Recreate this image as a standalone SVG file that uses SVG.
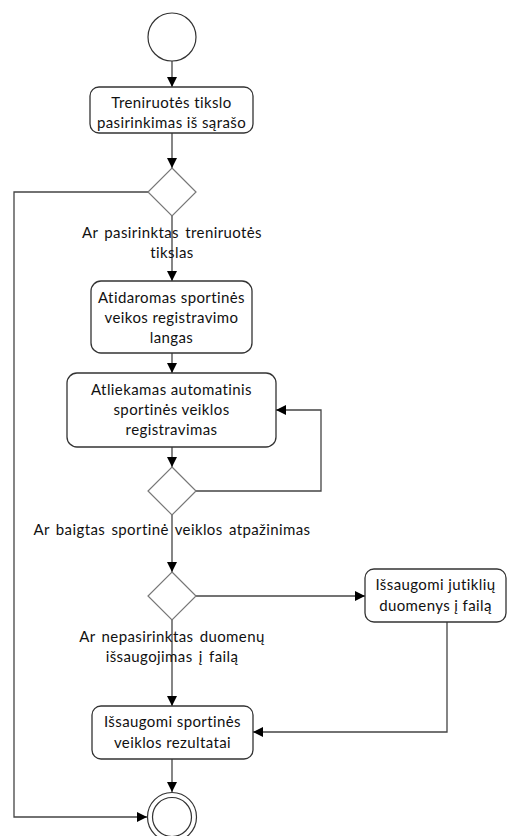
<svg xmlns="http://www.w3.org/2000/svg" width="516" height="836" viewBox="0 0 516 836">
  <defs>
    <marker id="arrow" viewBox="0 0 10 10" refX="10" refY="5" markerWidth="10" markerHeight="10" markerUnits="userSpaceOnUse" orient="auto">
      <path d="M0,0 L10,5 L0,10 Z" fill="#000"/>
    </marker>
    <style>
      .act { fill: #fff; stroke: #333; stroke-width: 1.3; }
      .dec { fill: #fff; stroke: #777; stroke-width: 1.2; }
      .term { fill: #fff; stroke: #333; stroke-width: 1.2; }
      .edge-a { fill: none; stroke: #444; stroke-width: 1.3; marker-end: url(#arrow); }
      text { font-family: Lato, "Liberation Sans", Arial, sans-serif; font-size: 15px; letter-spacing: 0.4px; fill: #111; text-anchor: middle; }
      .guard { word-spacing: 2px; }
    </style>
  </defs>
  <rect width="516" height="836" fill="#fff"/>

  <!-- connectors -->
  <g id="connectors">
    <line class="edge-a" x1="172" y1="61" x2="172" y2="87"/>
    <line class="edge-a" x1="172" y1="133" x2="172" y2="168"/>
    <line class="edge-a" x1="172" y1="216" x2="172" y2="281"/>
    <line class="edge-a" x1="172" y1="353" x2="172" y2="373"/>
    <line class="edge-a" x1="172" y1="447" x2="172" y2="467"/>
    <polyline class="edge-a" points="196,491 321,491 321,410 276,410"/>
    <line class="edge-a" x1="172" y1="515" x2="172" y2="572"/>
    <line class="edge-a" x1="196" y1="596" x2="365" y2="596"/>
    <line class="edge-a" x1="172" y1="620" x2="172" y2="706"/>
    <polyline class="edge-a" points="447,622 447,732 253,732"/>
    <line class="edge-a" x1="172" y1="759" x2="172" y2="792"/>
    <polyline class="edge-a" points="148,192 14,192 14,817 147,817"/>
    <!-- guard labels -->
    <text class="guard" x="172" y="238">Ar pasirinktas treniruotės</text>
    <text class="guard" x="172" y="258">tikslas</text>
    <text class="guard" x="172" y="535">Ar baigtas sportinė veiklos atpažinimas</text>
    <text class="guard" x="172" y="642">Ar nepasirinktas duomenų</text>
    <text class="guard" x="172" y="662">išsaugojimas į failą</text>
  </g>

  <g id="start">
    <circle class="term" cx="172" cy="37" r="24"/>
  </g>

  <g id="select-goal">
    <rect class="act" x="90" y="87" width="163" height="46" rx="9"/>
    <text x="171.5" y="108">Treniruotės tikslo</text>
    <text x="171.5" y="128">pasirinkimas iš sąrašo</text>
  </g>

  <g id="goal-chosen">
    <polygon class="dec" points="172,168 196,192 172,216 148,192"/>
  </g>

  <g id="open-window">
    <rect class="act" x="91" y="281" width="161" height="72" rx="10"/>
    <text x="171.5" y="303">Atidaromas sportinės</text>
    <text x="171.5" y="323">veikos registravimo</text>
    <text x="171.5" y="343">langas</text>
  </g>

  <g id="auto-record">
    <rect class="act" x="67" y="373" width="209" height="74" rx="10"/>
    <text x="171.5" y="395">Atliekamas automatinis</text>
    <text x="171.5" y="415">sportinės veiklos</text>
    <text x="171.5" y="435">registravimas</text>
  </g>

  <g id="recognition-done">
    <polygon class="dec" points="172,467 196,491 172,515 148,491"/>
  </g>

  <g id="save-choice">
    <polygon class="dec" points="172,572 196,596 172,620 148,596"/>
  </g>

  <g id="save-sensors">
    <rect class="act" x="365" y="569" width="141" height="53" rx="9"/>
    <text x="435.5" y="590">Išsaugomi jutiklių</text>
    <text x="435.5" y="611">duomenys į failą</text>
  </g>

  <g id="save-results">
    <rect class="act" x="92" y="706" width="161" height="53" rx="9"/>
    <text x="172.5" y="727">Išsaugomi sportinės</text>
    <text x="172.5" y="748">veiklos rezultatai</text>
  </g>

  <g id="end">
    <circle class="term" cx="172" cy="817" r="24.5"/>
    <circle class="term" cx="172" cy="817" r="19.5"/>
  </g>
</svg>
